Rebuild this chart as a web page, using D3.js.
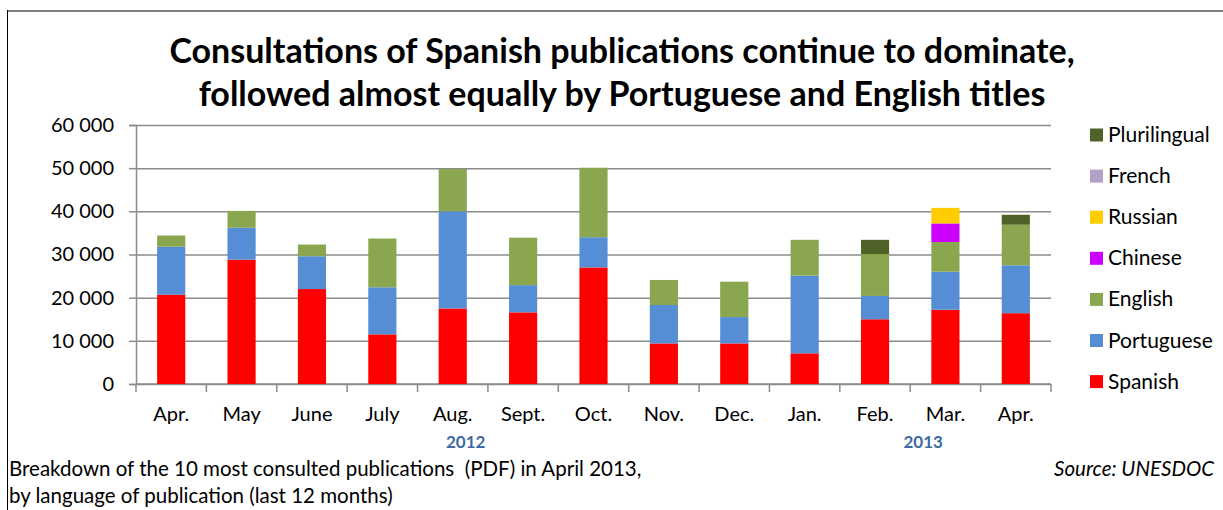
<!DOCTYPE html>
<html>
<head>
<meta charset="utf-8">
<script src="https://cdn.jsdelivr.net/npm/d3@7"></script>
<style>
  body { margin: 0; background: #fff; }
  svg text { font-family: Lato, "Open Sans", sans-serif; white-space: pre; }
</style>
</head>
<body>
<div id="chart"></div>
<script>
// months (last 12 months, Apr 2012 - Apr 2013)
let months = ['Apr.','May','June','July','Aug.','Sept.','Oct.','Nov.','Dec.','Jan.','Feb.','Mar.','Apr.'];

// consultations per language (stack order, bottom to top)
let spanish      = [20700, 28800, 22000, 11500, 17500, 16600, 27000, 9400, 9400, 7100, 15000, 17200, 16400];
let portuguese   = [11100, 7400, 7600, 10900, 22500, 6300, 7000, 8900, 6100, 18000, 5400, 8800, 11100];
let english      = [2600, 3900, 2700, 11300, 9800, 11000, 16100, 5800, 8200, 8300, 9700, 6900, 9400];
let chinese      = [0, 0, 0, 0, 0, 0, 0, 0, 0, 0, 0, 4300, 0];
let russian      = [0, 0, 0, 0, 0, 0, 0, 0, 0, 0, 0, 3600, 0];
let french       = [0, 0, 0, 0, 0, 0, 0, 0, 0, 0, 0, 0, 0];
let plurilingual = [0, 0, 0, 0, 0, 0, 0, 0, 0, 0, 3300, 0, 2300];

let languages = ['Spanish','Portuguese','English','Chinese','Russian','French','Plurilingual'];
let series = [spanish, portuguese, english, chinese, russian, french, plurilingual];

//language color
let lc = {
  'Spanish':'#ff0000',
  'Portuguese':'#558ed5',
  'English':'#8aa64f',
  'Chinese':'#cc00ff',
  'Russian':'#ffcc00',
  'French':'#b3a2c7',
  'Plurilingual':'#4f6228'
};

let yTicks = [0, 10000, 20000, 30000, 40000, 50000, 60000];
let years = [
  {label:'2012', from:0, to:8},
  {label:'2013', from:9, to:12}
];

let title = ['Consultations of Spanish publications continue to dominate,',
             'followed almost equally by Portuguese and English titles'];
let note = ['Breakdown of the 10 most consulted publications  (PDF) in April 2013,',
            'by language of publication (last 12 months)'];
let source = 'Source: UNESDOC';

// table for d3.stack
let table = months.map(function(m, i){
  let row = {idx:i};
  languages.forEach(function(l, j){ row[l] = series[j][i]; });
  return row;
});

let W = 1223, H = 510;
let plotL = 136, plotR = 1051, plotT = 125, plotB = 384;

let svg = d3.select('#chart')
  .append('svg')
    .attr('width', W)
    .attr('height', H);

// frame
svg.append('line')
  .attr('x1', 7).attr('x2', W).attr('y1', 11).attr('y2', 11)
  .attr('stroke', '#808080').attr('stroke-width', 2);
svg.append('line')
  .attr('x1', 7.5).attr('x2', 7.5).attr('y1', 10).attr('y2', H)
  .attr('stroke', '#000').attr('stroke-width', 1);

let x = d3.scaleBand()
  .domain(d3.range(months.length))
  .range([plotL, plotR])
  .paddingInner(0.6)
  .paddingOuter(0.3);

let y = d3.scaleLinear()
  .domain([0, 60000])
  .range([plotB, plotT]);

// gridlines
svg.append('g')
  .attr('transform', 'translate(' + plotL + ',0)')
  .call(d3.axisLeft(y).tickValues(yTicks).tickSize(-(plotR - plotL)).tickFormat(''))
  .call(function(g){
    g.select('.domain').remove();
    g.selectAll('line').attr('stroke', '#8c8c8c').attr('stroke-width', 1.5);
  });

// y axis
svg.append('g')
  .attr('transform', 'translate(' + plotL + ',0)')
  .call(d3.axisLeft(y).tickValues(yTicks).tickSize(7).tickPadding(15)
    .tickFormat(function(d){ return d3.format(',')(d).replace(',', ' '); }))
  .call(function(g){
    g.select('.domain').attr('stroke', '#8c8c8c').attr('stroke-width', 1.5);
    g.selectAll('line').attr('stroke', '#8c8c8c').attr('stroke-width', 1.5);
    g.selectAll('text').attr('font-size', 20).attr('fill', '#000')
      .attr('font-family', 'Lato, sans-serif');
  });

// x axis: baseline and ticks between categories
let step = x.step();
svg.append('line')
  .attr('x1', plotL).attr('x2', plotR).attr('y1', y(0)).attr('y2', y(0))
  .attr('stroke', '#8c8c8c').attr('stroke-width', 1.5);
svg.selectAll('.xtick').data(d3.range(months.length + 1)).enter()
  .append('line')
    .attr('class', 'xtick')
    .attr('x1', function(d){ return plotL + d * step; })
    .attr('x2', function(d){ return plotL + d * step; })
    .attr('y1', y(0)).attr('y2', y(0) + 8)
    .attr('stroke', '#8c8c8c').attr('stroke-width', 1.5);

svg.selectAll('.mlabel').data(months).enter()
  .append('text')
    .attr('class', 'mlabel')
    .attr('x', function(d, i){ return x(i) + x.bandwidth() / 2; })
    .attr('y', 421)
    .attr('text-anchor', 'middle')
    .attr('font-size', 20)
    .text(function(d){ return d; });

svg.selectAll('.ylabel').data(years).enter()
  .append('text')
    .attr('class', 'ylabel')
    .attr('x', function(d){ return (x(d.from) + x(d.to) + x.bandwidth()) / 2 + 13; })
    .attr('y', 448)
    .attr('text-anchor', 'middle')
    .attr('font-size', 17)
    .attr('font-weight', 'bold')
    .attr('fill', '#3d6aa1')
    .text(function(d){ return d.label; });

// bars
let stacked = d3.stack().keys(languages)(table);

svg.selectAll('.layer').data(stacked).enter()
  .append('g')
    .attr('class', 'layer')
    .attr('fill', function(d){ return lc[d.key]; })
  .selectAll('rect').data(function(d){ return d.filter(function(p){ return p[1] > p[0]; }); }).enter()
  .append('rect')
    .attr('x', function(d){ return x(d.data.idx); })
    .attr('y', function(d){ return y(d[1]); })
    .attr('width', x.bandwidth())
    .attr('height', function(d){ return y(d[0]) - y(d[1]); });

// legend
let legend = svg.selectAll('.legend').data(languages.slice().reverse()).enter()
  .append('g')
    .attr('class', 'legend')
    .attr('transform', function(d, i){ return 'translate(1090,' + (135 + i * 41.1) + ')'; });
legend.append('rect')
  .attr('x', 0).attr('y', -6.5)
  .attr('width', 13).attr('height', 13)
  .attr('fill', function(d){ return lc[d]; });
legend.append('text')
  .attr('x', 18).attr('y', 7)
  .attr('font-size', 21)
  .text(function(d){ return d; });

// title
svg.selectAll('.title').data(title).enter()
  .append('text')
    .attr('class', 'title')
    .attr('x', 622)
    .attr('y', function(d, i){ return 63 + i * 43; })
    .attr('text-anchor', 'middle')
    .attr('font-size', 34)
    .attr('font-weight', 'bold')
    .text(function(d){ return d; });

// notes
svg.selectAll('.note').data(note).enter()
  .append('text')
    .attr('class', 'note')
    .attr('x', 9)
    .attr('y', function(d, i){ return 476 + i * 27; })
    .attr('font-size', 20.5)
    .text(function(d){ return d; });

svg.append('text')
  .attr('x', 1214)
  .attr('y', 476)
  .attr('text-anchor', 'end')
  .attr('font-size', 20.5)
  .attr('font-style', 'italic')
  .text(source);
</script>
</body>
</html>
